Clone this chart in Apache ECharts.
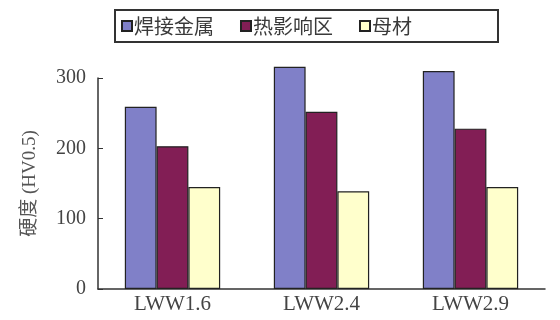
<!DOCTYPE html>
<html>
<head>
<meta charset="utf-8">
<script src="https://cdn.jsdelivr.net/npm/echarts@6/dist/echarts.min.js"></script>
<style>
  html, body { margin: 0; padding: 0; background: #fff; }
  #chart { width: 560px; height: 320px; }
</style>
</head>
<body>
<div id="chart"></div>
<script>
// 硬度柱状图数据
const categories = ['LWW1.6', 'LWW2.4', 'LWW2.9'];
const seriesNames = ['焊接金属', '热影响区', '母材'];
const weldMetal = [259, 316, 310];
const haz = [203, 252, 228];
const baseMetal = [145, 139, 145];
const colors = ['#8080c8', '#821e55', '#ffffcc'];

const values = [weldMetal, haz, baseMetal];

let chart = echarts.init(document.getElementById('chart'));

let option = {
    backgroundColor: '#fff',
    animation: false,
    legend: {
        left: 115,
        top: 10,
        orient: 'horizontal',
        icon: 'rect',
        itemWidth: 10,
        itemHeight: 10,
        itemGap: 26,
        padding: [6, 86, 6, 6],
        borderColor: '#333',
        borderWidth: 2,
        textStyle: {
            fontFamily: 'Noto Sans CJK SC',
            fontSize: 20,
            color: '#3a3a3a',
            padding: [0, 0, 0, -3]
        },
        data: seriesNames
    },
    grid: {
        left: 98,
        right: 15,
        top: 78,
        bottom: 31
    },
    xAxis: {
        type: 'category',
        data: categories,
        axisLine: { lineStyle: { color: '#333', width: 1.5 } },
        axisTick: { inside: true, length: 5, lineStyle: { color: '#333' } },
        axisLabel: {
            fontFamily: 'Liberation Serif',
            fontSize: 21,
            color: '#444',
            margin: 5
        }
    },
    yAxis: {
        type: 'value',
        min: 0,
        max: 300,
        interval: 100,
        name: '硬度 (HV0.5)',
        nameLocation: 'middle',
        nameRotate: 90,
        nameGap: 58,
        nameTextStyle: {
            fontFamily: 'Liberation Serif, Noto Sans CJK SC',
            fontSize: 19,
            color: '#555'
        },
        splitLine: { show: false },
        axisLine: { show: true, lineStyle: { color: '#333', width: 1.5 } },
        axisTick: { show: true, inside: true, length: 5, lineStyle: { color: '#333' } },
        axisLabel: {
            fontFamily: 'Liberation Serif',
            fontSize: 20,
            color: '#444',
            margin: 12
        }
    },
    series: seriesNames.map((name, i) => ({
        name: name,
        type: 'bar',
        data: values[i],
        clip: false,
        barGap: '0%',
        barCategoryGap: '36%',
        itemStyle: {
            color: colors[i],
            borderColor: '#222',
            borderWidth: 1.2
        }
    }))
};

chart.setOption(option);
</script>
</body>
</html>
